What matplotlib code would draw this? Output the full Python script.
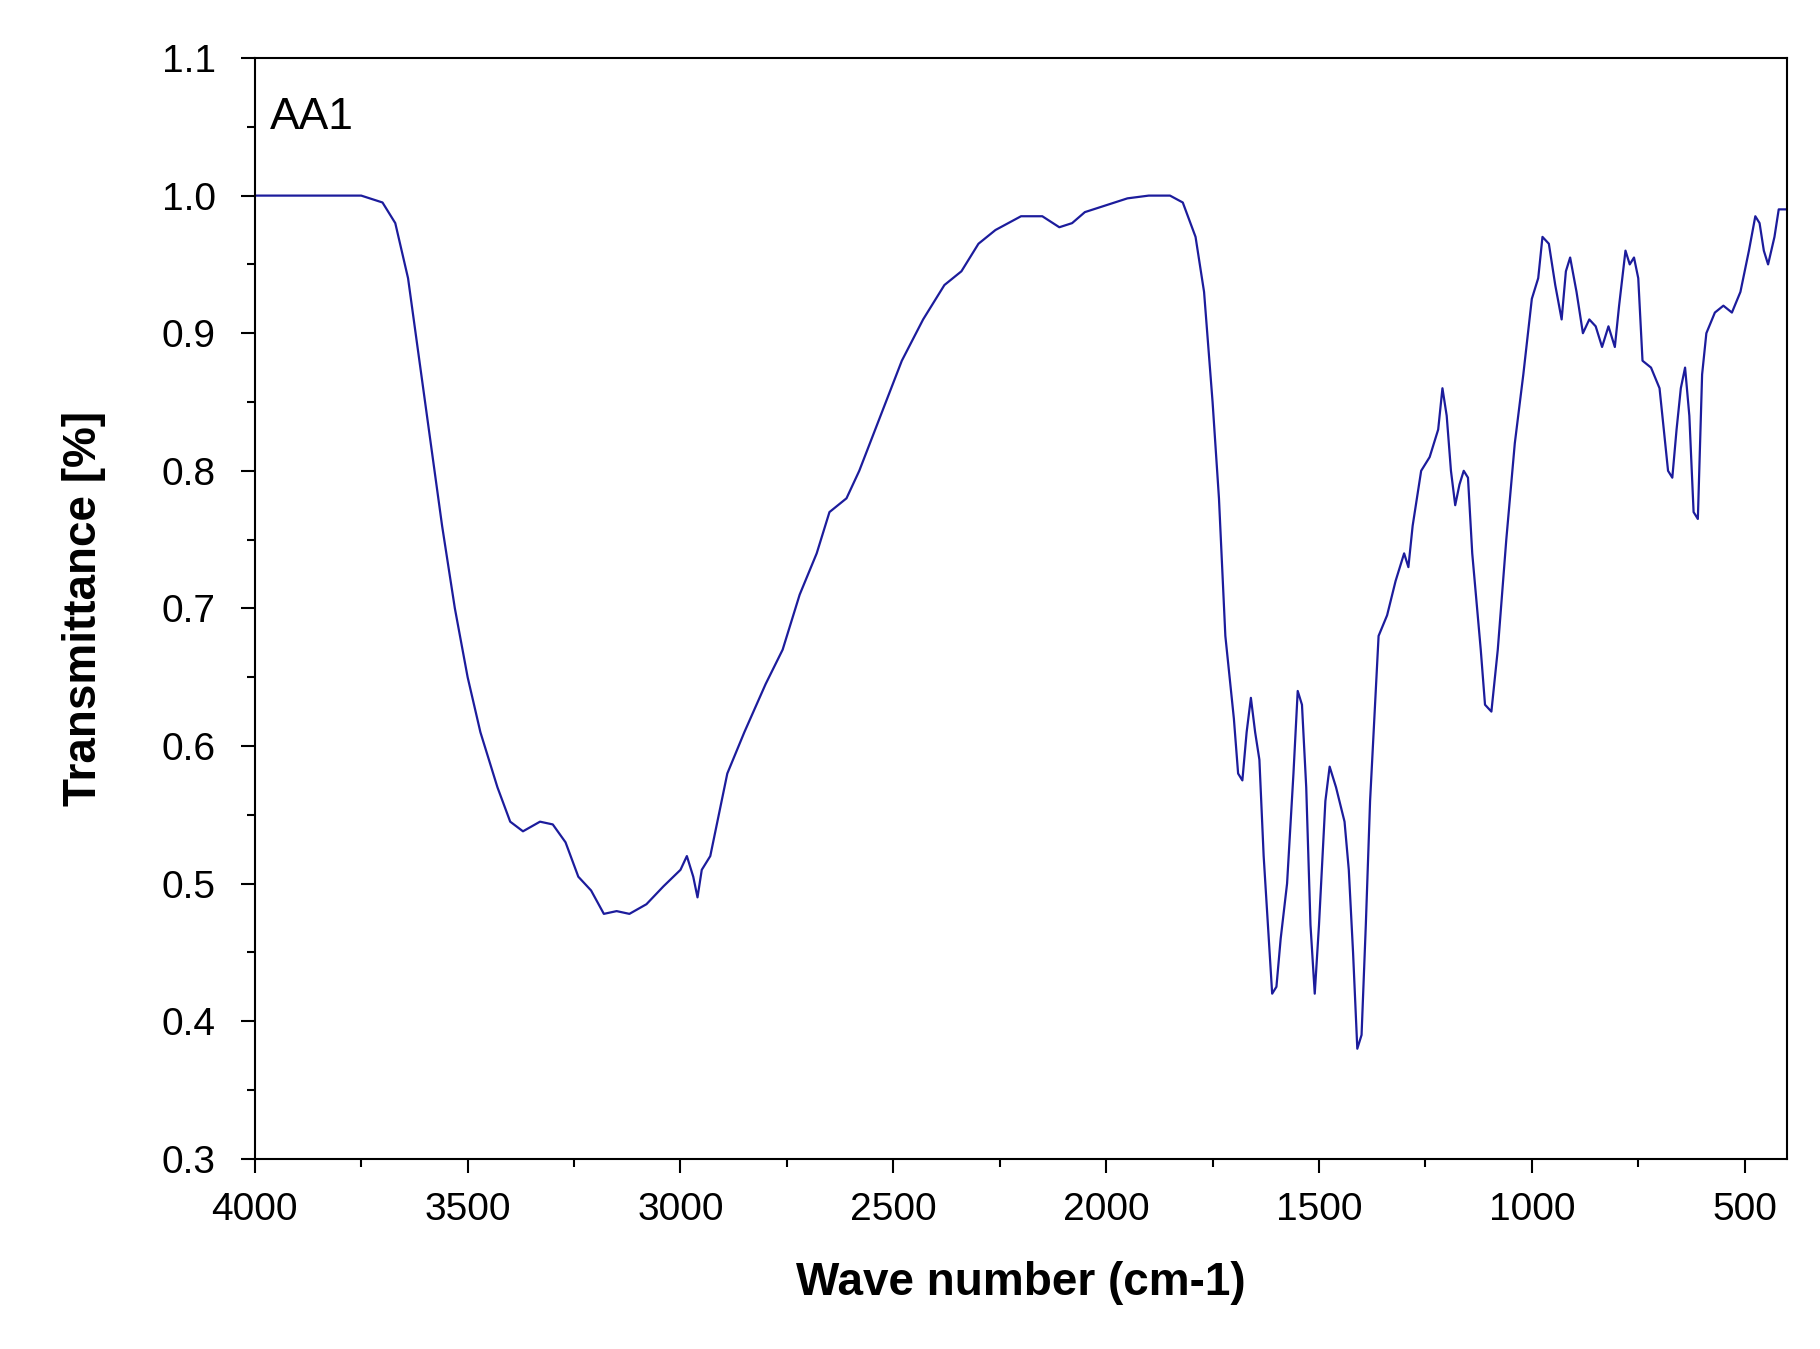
import matplotlib
matplotlib.use("Agg")
import matplotlib.pyplot as plt
from matplotlib.ticker import MultipleLocator

wavenumber = [4000,3850,3750,3700,3670,3640,3600,3560,3530,3500,3470,3430,3400,3370,3330,3300,3270,3240,3210,3180,3150,3120,3080,3040,3000,2985,2970,2960,2950,2930,2910,2890,2850,2800,2760,2720,2680,2650,2610,2580,2530,2480,2430,2380,2340,2300,2260,2200,2150,2110,2080,2050,2000,1950,1900,1850,1820,1790,1770,1750,1735,1720,1700,1690,1680,1670,1660,1650,1640,1630,1620,1610,1600,1590,1575,1560,1550,1540,1530,1520,1510,1500,1485,1475,1460,1440,1430,1420,1410,1400,1390,1380,1370,1360,1340,1320,1300,1290,1280,1260,1240,1220,1210,1200,1190,1180,1170,1160,1150,1140,1120,1110,1095,1080,1060,1040,1020,1000,985,975,960,945,930,920,910,895,880,865,850,835,820,805,795,780,770,760,750,740,720,700,690,680,670,660,650,640,630,620,610,600,590,570,550,530,510,490,475,465,455,445,430,420,400]
transmittance = [1.0,1.0,1.0,0.995,0.98,0.94,0.85,0.76,0.70,0.65,0.61,0.57,0.545,0.538,0.545,0.543,0.53,0.505,0.495,0.478,0.48,0.478,0.485,0.498,0.51,0.52,0.505,0.49,0.51,0.52,0.55,0.58,0.61,0.645,0.67,0.71,0.74,0.77,0.78,0.80,0.84,0.88,0.91,0.935,0.945,0.965,0.975,0.985,0.985,0.977,0.98,0.988,0.993,0.998,1.0,1.0,0.995,0.97,0.93,0.85,0.78,0.68,0.62,0.58,0.575,0.61,0.635,0.61,0.59,0.52,0.47,0.42,0.425,0.46,0.5,0.58,0.64,0.63,0.57,0.47,0.42,0.47,0.56,0.585,0.57,0.545,0.51,0.45,0.38,0.39,0.47,0.56,0.62,0.68,0.695,0.72,0.74,0.73,0.76,0.80,0.81,0.83,0.86,0.84,0.80,0.775,0.79,0.80,0.795,0.74,0.67,0.63,0.625,0.67,0.75,0.82,0.87,0.925,0.94,0.97,0.965,0.935,0.91,0.945,0.955,0.93,0.90,0.91,0.905,0.89,0.905,0.89,0.92,0.96,0.95,0.955,0.94,0.88,0.875,0.86,0.83,0.80,0.795,0.83,0.86,0.875,0.84,0.77,0.765,0.87,0.90,0.915,0.92,0.915,0.93,0.96,0.985,0.98,0.96,0.95,0.97,0.99,0.99]

plt.rcParams['font.family'] = ['Liberation Sans', 'DejaVu Sans']
fig = plt.figure(figsize=(18.2, 13.49), dpi=100)
ax = fig.add_axes([0.14, 0.141, 0.842, 0.816])
ax.plot(wavenumber, transmittance, color='#1c1c9c', lw=1.6)
ax.set_xlim(4000, 400)
ax.set_ylim(0.3, 1.1)
ax.xaxis.set_minor_locator(MultipleLocator(250))
ax.yaxis.set_minor_locator(MultipleLocator(0.05))
ax.set_xticks([4000,3500,3000,2500,2000,1500,1000,500])
ax.set_yticks([0.3,0.4,0.5,0.6,0.7,0.8,0.9,1.0,1.1])
ax.set_yticklabels(['0.3','0.4','0.5','0.6','0.7','0.8','0.9','1.0','1.1'])
ax.tick_params(axis='both', which='major', direction='out', length=10, width=1.5, labelsize=28)
ax.tick_params(axis='x', which='major', pad=14)
ax.tick_params(axis='y', which='major', pad=18)
ax.tick_params(axis='both', which='minor', direction='out', length=6, width=1.5)
for s in ax.spines.values():
    s.set_linewidth(1.5)
ax.set_xlabel('Wave number (cm-1)', fontsize=33, fontweight='bold', labelpad=24)
ax.set_ylabel('Transmittance [%]', fontsize=33, fontweight='bold', labelpad=40)
ax.text(0.01, 0.965, 'AA1', transform=ax.transAxes, fontsize=32, va='top', ha='left')
fig.savefig('out.png', dpi=100)
